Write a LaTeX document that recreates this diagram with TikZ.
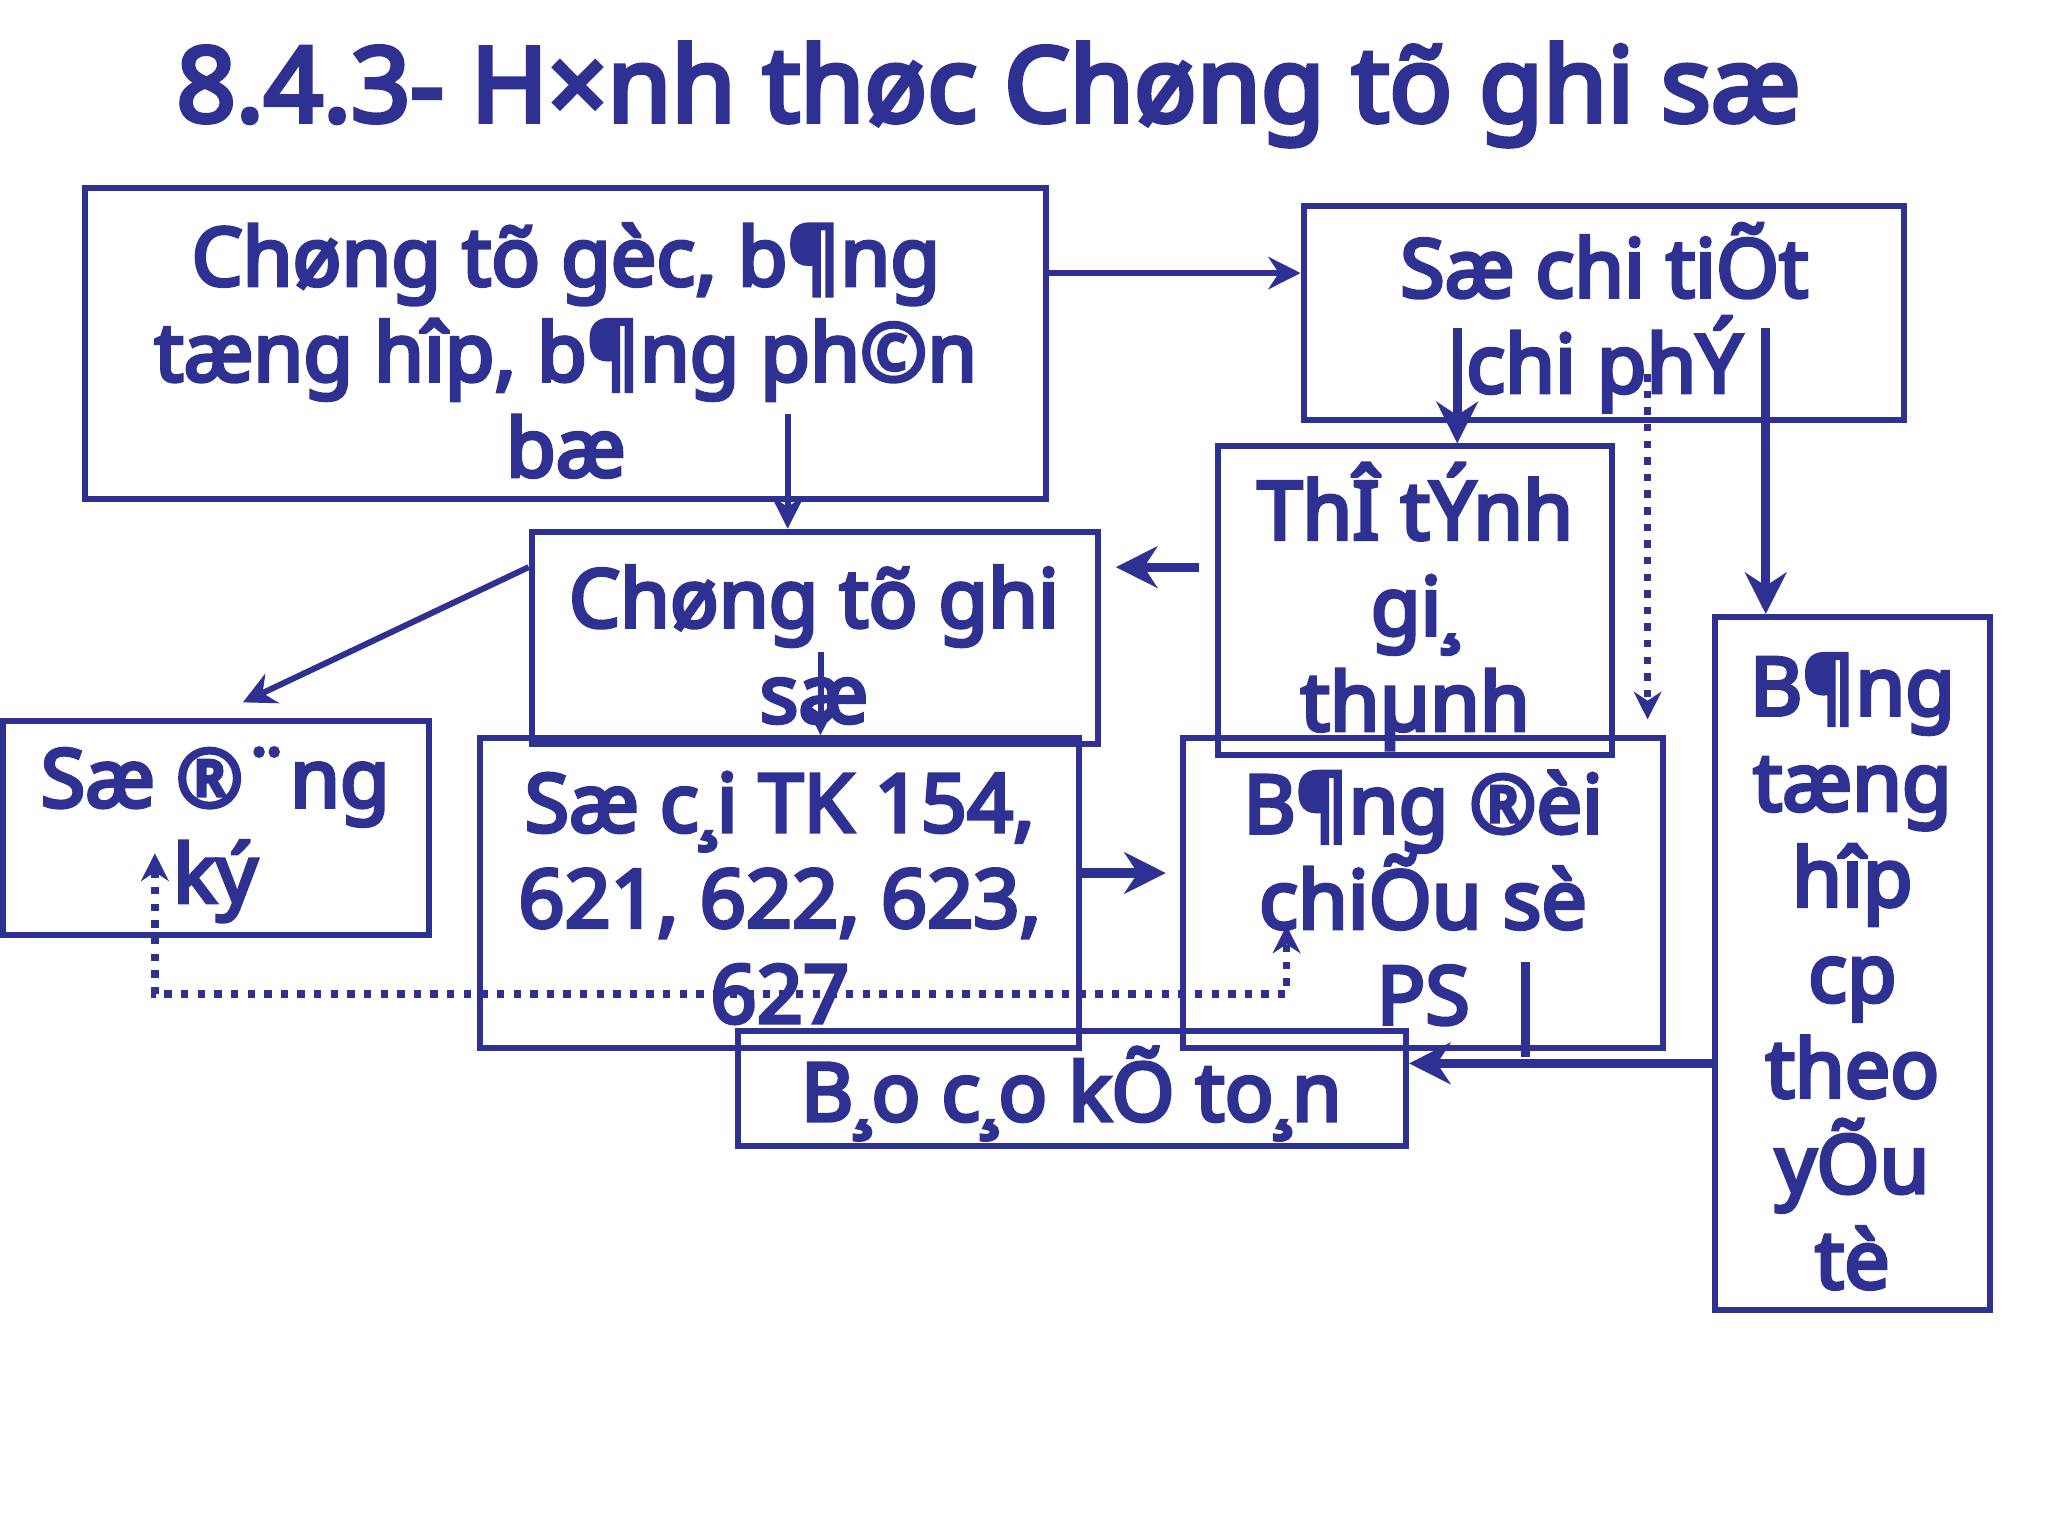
\documentclass[tikz,border=0pt]{standalone}
\usepackage{fontspec}
\setmainfont[AutoFakeBold=4.5]{Noto Sans}
\usetikzlibrary{fit,arrows.meta}
\definecolor{nv}{RGB}{46,49,146}
\begin{document}
\begin{tikzpicture}[x=0.01cm,y=-0.01cm,
  box/.style={draw=nv,line width=1.3pt,inner sep=0pt},
  txt/.style={text=nv,font=\bfseries\fontsize{17.5}{20.7}\selectfont,align=center,inner sep=0pt},
  thin/.style={draw=nv,line width=1.3pt,-{Stealth[length=7pt,width=7pt]}},
  thk/.style={draw=nv,line width=2pt,-{Stealth[length=9pt,width=9pt]}},
  dot/.style={draw=nv,line width=1.6pt,dotted,-{Stealth[length=6pt,width=6pt]}}]
\useasboundingbox (0,0) rectangle (1560,1170);
\node[text=nv,font=\bfseries\fontsize{22.5}{27}\selectfont,inner sep=0pt] (title) at (753,72) {8.4.3- H×nh thøc Chøng tõ ghi sæ};
\node[box,fit={(65,143)(797,380)}] (A) {};
\node[box,fit={(993,157)(1450,320)}] (B) {};
\node[box,fit={(928,340)(1228,575)}] (C) {};
\node[box,fit={(405,405)(836,567)}] (D) {};
\node[box,fit={(2,549)(327,712)}] (E) {};
\node[box,fit={(366,562)(822,798)}] (F) {};
\node[box,fit={(901,562)(1267,798)}] (G) {};
\node[box,fit={(1306,470)(1516,998)}] (H) {};
\node[box,fit={(562,785)(1071,873)}] (I) {};
\node[txt] (tA) at (431,267) {Chøng tõ gèc, b¶ng\\tæng hîp, b¶ng ph©n\\bæ};
\node[txt] (tB) at (1222,242) {Sæ chi tiÕt\\chi phÝ};
\node[txt] (tC) at (1078,462) {ThÎ tÝnh\\gi¸\\thµnh};
\node[txt] (tD) at (620,491) {Chøng tõ ghi\\sæ};
\node[txt] (tE) at (164,636) {Sæ ®¨ng\\ký};
\node[txt] (tF) at (594,684) {Sæ c¸i TK 154,\\621, 622, 623,\\627};
\node[txt] (tG) at (1084,684) {B¶ng ®èi\\chiÕu sè\\PS};
\node[txt] (tH) at (1411,740) {B¶ng\\tæng\\hîp\\cp\\theo\\yÕu\\tè};
\node[txt] (tI) at (816,833) {B¸o c¸o kÕ to¸n};
\draw[thin] (A.east |- 0,208) -- (B.west |- 0,208);
\draw[thin] (600,315) -- (D.north -| 600,0);
\draw[thk] (1110,250) -- (C.north -| 1110,0);
\draw[dot] (1255,285) -- (1255,548);
\draw[thk] (1345,250) -- (H.north -| 1345,0);
\draw[thk] (913,432) -- (850,432);
\draw[thin] (D.west |- 0,432) -- (185,535);
\draw[thin] (625,497) -- (625,560);
\draw[thk] (F.east |- 0,665) -- (888,665);
\draw[dot,{Stealth[length=6pt,width=6pt]}-{Stealth[length=6pt,width=6pt]}] (118,650) -- (118,757) -- (980,757) -- (980,705);
\draw[thk] (H.west |- 0,810) -- (I.east |- 0,810);
\draw[draw=nv,line width=2pt] (1162,733) -- (1162,805);
\end{tikzpicture}
\end{document}
